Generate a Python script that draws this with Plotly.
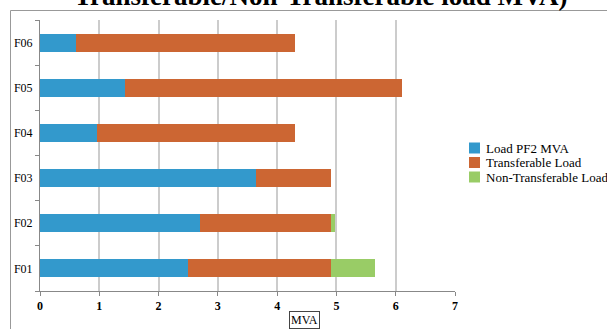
import plotly.graph_objects as go

feeders = ["F01", "F02", "F03", "F04", "F05", "F06"]
load_pf2 = [2.5, 2.7, 3.65, 0.96, 1.43, 0.6]
transferable = [2.4, 2.2, 1.25, 3.34, 4.67, 3.7]
non_transferable = [0.75, 0.08, 0.0, 0.0, 0.0, 0.0]
x_ticks = [0, 1, 2, 3, 4, 5, 6, 7]

series_names = ["Load PF2 MVA", "Transferable Load", "Non-Transferable Load"]
series_values = [load_pf2, transferable, non_transferable]
series_colors = ["#3399cc", "#cc6633", "#99cc66"]

fig = go.Figure()
for name, vals, col in zip(series_names, series_values, series_colors):
    fig.add_trace(go.Bar(
        y=feeders, x=vals, name=name, orientation="h",
        marker=dict(color=col, line=dict(width=0)),
        showlegend=False,
    ))

W, H = 607, 329
L, R, T, B = 40, 152, 20, 38
pw, ph = W - L - R, H - T - B

def px_x(p):
    return (p - L) / pw

def px_y(p):
    return 1 - (p - T) / ph

serif = "Liberation Serif, Times New Roman, serif"

shapes = [dict(
    type="rect", xref="paper", yref="paper",
    x0=px_x(10.5), x1=px_x(640), y0=px_y(360), y1=px_y(10.5),
    line=dict(color="#999999", width=1), fillcolor="rgba(0,0,0,0)", layer="below",
)]
annotations = [
    dict(
        text="<b>Transferable/Non-Transferable load MVA)</b>",
        xref="paper", yref="paper", x=px_x(320), y=px_y(13),
        xanchor="center", yanchor="bottom", showarrow=False,
        font=dict(family=serif, size=27, color="#000"),
    ),
    dict(
        text="MVA", xref="paper", yref="paper", x=px_x(304), y=px_y(320),
        xanchor="center", yanchor="middle", showarrow=False,
        font=dict(family=serif, size=12, color="#000"),
        bordercolor="#444444", borderwidth=1, borderpad=1,
    ),
]

# legend drawn manually (compact spacing as in the reference)
leg_y = [148, 162.5, 177]
for i, (name, col) in enumerate(zip(series_names, series_colors)):
    cy = leg_y[i]
    shapes.append(dict(
        type="rect", xref="paper", yref="paper",
        x0=px_x(469), x1=px_x(480), y0=px_y(cy + 5.5), y1=px_y(cy - 5.5),
        line=dict(width=0), fillcolor=col,
    ))
    annotations.append(dict(
        text=name, xref="paper", yref="paper", x=px_x(484), y=px_y(cy),
        xanchor="left", yanchor="middle", showarrow=False,
        font=dict(family=serif, size=13, color="#000"),
    ))

fig.update_layout(
    width=W, height=H,
    margin=dict(l=L, r=R, t=T, b=B, pad=0, autoexpand=False),
    paper_bgcolor="white", plot_bgcolor="white",
    barmode="stack", bargap=0.6,
    font=dict(family=serif, size=12, color="#000000"),
    showlegend=False,
    xaxis=dict(
        range=[0, 7], tickvals=x_ticks, ticktext=[f"<b>{v}</b>" for v in x_ticks],
        showgrid=True, gridcolor="#cccccc", gridwidth=1.5,
        showline=True, linecolor="#888888", linewidth=1,
        ticks="outside", ticklen=4, tickcolor="#888888",
        tickfont=dict(family=serif, size=12, color="#000"),
        zeroline=False, fixedrange=True,
    ),
    yaxis=dict(
        categoryorder="array", categoryarray=feeders,
        showgrid=False, showline=True, linecolor="#888888", linewidth=1,
        ticks="outside", ticklen=4, tickcolor="#888888", tickson="boundaries",
        tickfont=dict(family=serif, size=12, color="#000"),
        ticklabelstandoff=4, fixedrange=True,
    ),
    shapes=shapes,
    annotations=annotations,
)

fig.write_html("out.html")
